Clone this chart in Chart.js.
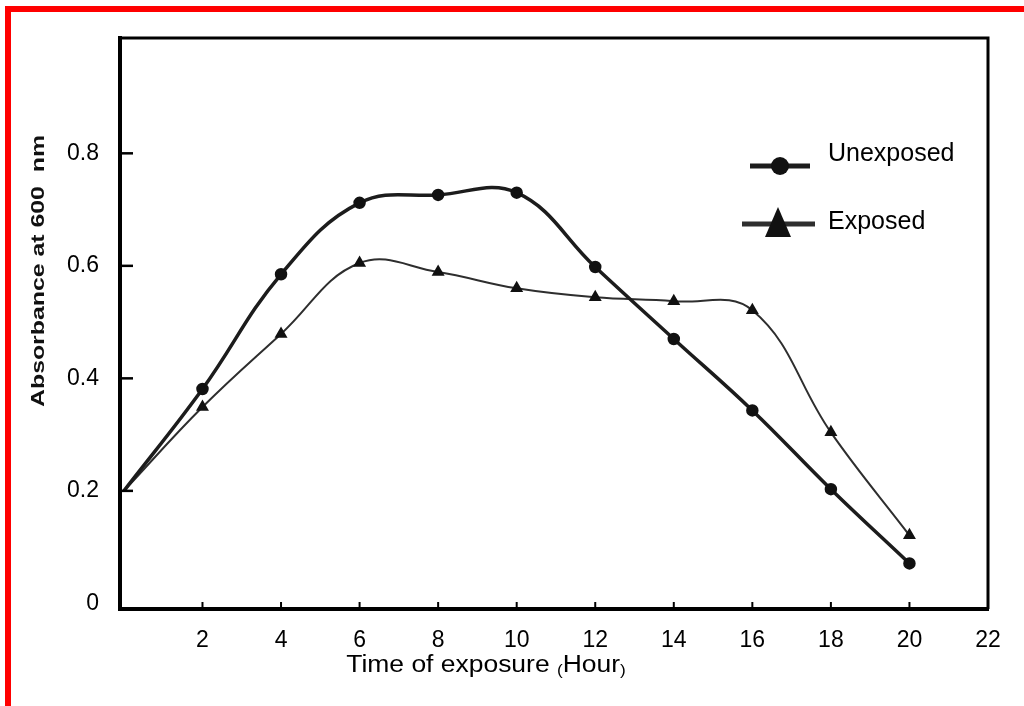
<!DOCTYPE html>
<html>
<head>
<meta charset="utf-8">
<script src="https://cdn.jsdelivr.net/npm/chart.js@4.4.0/dist/chart.umd.min.js"></script>
<style>
html, body { margin: 0; padding: 0; background: #fff; }
#wrap { position: relative; width: 1024px; height: 706px; overflow: hidden; }
#frame { position: absolute; left: 5px; top: 6px; right: -10px; bottom: -10px; border-top: 6px solid #f00; border-left: 6px solid #f00; pointer-events: none; }
</style>
</head>
<body>
<div id="wrap">
  <canvas id="chart" width="1024" height="706"></canvas>
  <div id="frame"></div>
</div>
<script>
// values
const hours = [0, 2, 4, 6, 8, 10, 12, 14, 16, 18, 20];
const unexposed = [0.20, 0.381, 0.585, 0.712, 0.726, 0.730, 0.598, 0.470, 0.343, 0.203, 0.071];
const exposed = [0.20, 0.349, 0.479, 0.605, 0.589, 0.560, 0.544, 0.537, 0.521, 0.304, 0.121];
const xTicks = [2, 4, 6, 8, 10, 12, 14, 16, 18, 20, 22];
const yTicks = [0, 0.2, 0.4, 0.6, 0.8];
const seriesNames = ['Unexposed', 'Exposed'];
const yTitle = 'Absorbance at 600  nm';
const xTitle = ['Time of exposure ', '(', 'Hour', ')'];

const FONT = '"Liberation Sans", Arial, sans-serif';

function pts(ys) { return hours.map((h, i) => ({ x: h, y: ys[i] })); }

// axes box, inward tick marks, titles and the legend
const decor = {
    id: 'decor',
    afterDraw(chart) {
        const ctx = chart.ctx, a = chart.chartArea;
        const xs = chart.scales.x, ys = chart.scales.y;
        ctx.save();
        ctx.strokeStyle = '#000';

        ctx.lineWidth = 3;
        ctx.beginPath();
        ctx.moveTo(a.left, a.top); ctx.lineTo(a.right, a.top); ctx.lineTo(a.right, a.bottom);
        ctx.stroke();

        ctx.lineWidth = 2;
        xTicks.forEach(v => {
            const px = xs.getPixelForValue(v);
            ctx.beginPath(); ctx.moveTo(px, a.bottom); ctx.lineTo(px, a.bottom - 7); ctx.stroke();
        });
        ctx.lineWidth = 2.5;
        yTicks.slice(1).forEach(v => {
            const py = ys.getPixelForValue(v);
            ctx.beginPath(); ctx.moveTo(a.left, py); ctx.lineTo(a.left + 13, py); ctx.stroke();
        });

        // y title, stretched like the scan
        ctx.fillStyle = '#111';
        ctx.save();
        ctx.translate(39, 271);
        ctx.rotate(-Math.PI / 2);
        ctx.scale(1.38, 1);
        ctx.font = 'bold 18px ' + FONT;
        ctx.textAlign = 'center';
        ctx.textBaseline = 'middle';
        ctx.fillText(yTitle, 0, 0);
        ctx.restore();

        // x title with the small brackets
        ctx.save();
        ctx.fillStyle = '#000';
        ctx.translate(a.left + 366, 672);
        ctx.scale(1.15, 1);
        ctx.textBaseline = 'alphabetic';
        const sizes = [23, 15, 23, 15];
        let w = 0;
        const widths = xTitle.map((s, i) => { ctx.font = sizes[i] + 'px ' + FONT; const m = ctx.measureText(s).width; w += m; return m; });
        let cx = -w / 2;
        xTitle.forEach((s, i) => {
            ctx.font = sizes[i] + 'px ' + FONT;
            ctx.fillText(s, cx, sizes[i] < 20 ? 3 : 0);
            cx += widths[i];
        });
        ctx.restore();

        // legend
        const ds = chart.data.datasets;
        ctx.font = '25px ' + FONT;
        ctx.textBaseline = 'middle';
        ctx.textAlign = 'left';
        ctx.fillStyle = '#000';
        ctx.lineWidth = 5;
        ctx.strokeStyle = ds[0].borderColor;
        ctx.beginPath(); ctx.moveTo(750, 166); ctx.lineTo(810, 166); ctx.stroke();
        ctx.fillStyle = ds[0].pointBackgroundColor;
        ctx.beginPath(); ctx.arc(780, 166, 9, 0, Math.PI * 2); ctx.fill();
        ctx.fillStyle = '#000';
        ctx.fillText(ds[0].label, 828, 154);

        ctx.strokeStyle = ds[1].borderColor;
        ctx.beginPath(); ctx.moveTo(742, 224); ctx.lineTo(815, 224); ctx.stroke();
        ctx.fillStyle = ds[1].pointBackgroundColor;
        ctx.beginPath(); ctx.moveTo(778, 207); ctx.lineTo(791, 237); ctx.lineTo(765, 237); ctx.closePath(); ctx.fill();
        ctx.fillStyle = '#000';
        ctx.fillText(ds[1].label, 828, 222);
        ctx.restore();
    }
};

new Chart(document.getElementById('chart'), {
    type: 'line',
    data: {
        datasets: [
            {
                label: seriesNames[0], data: pts(unexposed),
                borderColor: '#1c1c1c', borderWidth: 3.5, tension: 0.4,
                pointStyle: 'circle', pointBackgroundColor: '#111', pointBorderColor: '#111',
                pointRadius: c => c.dataIndex === 0 ? 0 : 4.5
            },
            {
                label: seriesNames[1], data: pts(exposed),
                borderColor: '#2e2e2e', borderWidth: 2, tension: 0.4,
                pointStyle: 'triangle', pointBackgroundColor: '#111', pointBorderColor: '#111',
                pointRadius: c => c.dataIndex === 0 ? 0 : 5.5
            }
        ]
    },
    options: {
        responsive: false,
        animation: false,
        devicePixelRatio: 1,
        layout: { padding: { top: 38, right: 36, left: 0, bottom: 0 } },
        plugins: { legend: { display: false }, tooltip: { enabled: false } },
        scales: {
            x: {
                type: 'linear', min: -0.1, max: 22,
                afterFit: s => { s.height = 97; },
                afterBuildTicks: s => { s.ticks = xTicks.map(v => ({ value: v })); },
                grid: { display: true, drawOnChartArea: false, drawTicks: false },
                border: { display: true, width: 4, color: '#000' },
                ticks: { color: '#000', font: { family: FONT, size: 23 }, padding: 18, maxRotation: 0, autoSkip: false }
            },
            y: {
                type: 'linear', min: -0.01, max: 1.005,
                afterFit: s => { s.width = 120; },
                afterBuildTicks: s => { s.ticks = yTicks.map(v => ({ value: v })); },
                grid: { display: true, drawOnChartArea: false, drawTicks: false },
                border: { display: true, width: 4, color: '#000' },
                ticks: { color: '#000', font: { family: FONT, size: 23 }, padding: 21,
                    callback: v => v === 0 ? '0' : v.toFixed(1) }
            }
        }
    },
    plugins: [decor]
});
</script>
</body>
</html>
